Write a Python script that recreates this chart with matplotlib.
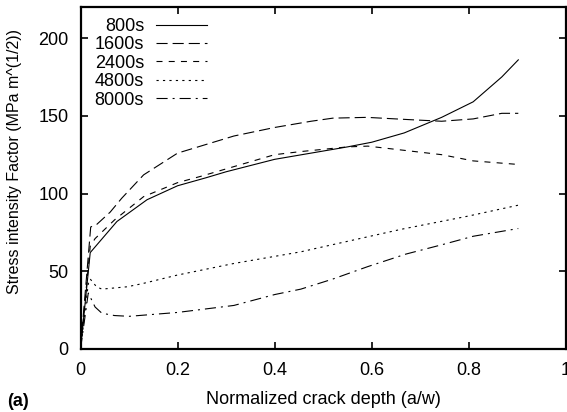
import matplotlib
matplotlib.use("Agg")
import matplotlib.pyplot as plt

plt.rcParams["font.family"] = ["Liberation Sans", "DejaVu Sans"]
plt.rcParams["font.size"] = 13

# values
x_800 = [0, 0.02, 0.075, 0.137, 0.2, 0.257, 0.3, 0.4, 0.475, 0.55, 0.6, 0.667, 0.744, 0.809, 0.868, 0.902]
k_800 = [0, 62, 82, 96, 105, 110, 114, 122, 126, 130, 133, 139, 149, 159, 175, 186]

x_1600 = [0, 0.021, 0.033, 0.061, 0.085, 0.13, 0.2, 0.316, 0.4, 0.475, 0.52, 0.59, 0.68, 0.744, 0.809, 0.868, 0.902]
k_1600 = [0, 78.5, 80, 88, 97, 112, 126, 137, 142.5, 146.5, 148.5, 149, 147.5, 146.5, 148, 151.6, 151.6]

x_2400 = [0, 0.02, 0.03, 0.07, 0.13, 0.2, 0.247, 0.4, 0.454, 0.55, 0.592, 0.744, 0.809, 0.902]
k_2400 = [0, 66, 71, 83, 98, 107, 111, 125, 127, 130, 130.5, 125, 121, 118.7]

x_4800 = [0, 0.016, 0.02, 0.033, 0.044, 0.096, 0.127, 0.199, 0.316, 0.454, 0.475, 0.661, 0.799, 0.902]
k_4800 = [0, 42, 45, 40, 38.5, 40, 42, 47.5, 55, 62.5, 64, 77, 85.5, 92.5]

x_8000 = [0, 0.016, 0.03, 0.044, 0.07, 0.1, 0.2, 0.316, 0.4, 0.454, 0.52, 0.592, 0.67, 0.744, 0.809, 0.902]
k_8000 = [0, 36, 27, 23, 21.5, 21, 23.5, 28, 35, 38.5, 45, 53, 61, 67, 72.5, 77.5]

series = [
    ("800s", x_800, k_800, "-"),
    ("1600s", x_1600, k_1600, (0, (10, 4.5))),
    ("2400s", x_2400, k_2400, (0, (5.4, 5.6))),
    ("4800s", x_4800, k_4800, (0, (2, 3.8))),
    ("8000s", x_8000, k_8000, (0, (10, 4.5, 1.8, 4.5))),
]

fig = plt.figure(figsize=(5.67, 4.12), dpi=100)
ax = fig.add_axes([0.142, 0.153, 0.856, 0.830])

for label, xs, ks, ls in series:
    ax.plot(xs, ks, color="black", linewidth=0.8, linestyle=ls, label=label)

ax.set_xlim(0, 1)
ax.set_ylim(0, 220)
ax.set_xticks([0, 0.2, 0.4, 0.6, 0.8, 1])
ax.set_xticklabels(["0", "0.2", "0.4", "0.6", "0.8", "1"])
ax.set_yticks([0, 50, 100, 150, 200])
ax.tick_params(direction="in", top=True, right=True, length=5, width=1.2, labelsize=13)
ax.tick_params(axis="x", pad=9.5)
ax.tick_params(axis="y", pad=8.5)
for s in ax.spines.values():
    s.set_linewidth(1.6)

fig.text(0.57, 0.0187, "Normalized crack depth (a/w)", fontsize=13, ha="center", va="baseline")
fig.text(0.026, 0.607, "Stress intensity Factor (MPa m^(1/2))", fontsize=11.5,
         rotation=90, ha="center", va="center")

# labels on the left, line samples on the right (gnuplot style key)
leg = ax.legend(loc="upper left", bbox_to_anchor=(0.007, 1.0), frameon=False,
                markerfirst=False, handlelength=2.8, handletextpad=0.67,
                labelspacing=0.08, borderpad=0.1, fontsize=13)

fig.text(0.012, 0.015, "(a)", fontsize=13, fontweight="bold", va="baseline")

fig.savefig("out.png", dpi=100)
